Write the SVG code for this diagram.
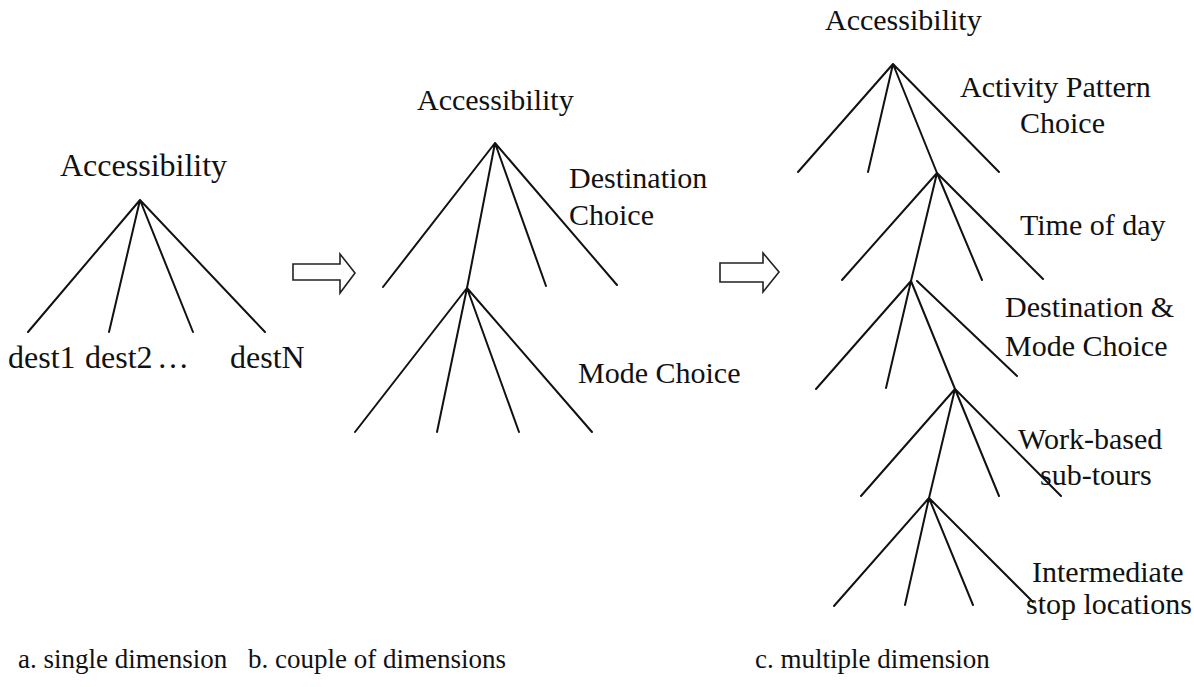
<svg xmlns="http://www.w3.org/2000/svg" width="1194" height="687" viewBox="0 0 1194 687" font-family="Liberation Serif, DejaVu Serif, serif">
<style>
text{font-family:'Liberation Serif','DejaVu Serif',serif;fill:#111}
.lbl{font-size:30px}
.lblA{font-size:32px}
.cap{font-size:27px}
.br{stroke:#111;stroke-width:2;fill:none;stroke-linecap:round}
.arr{stroke:#222;stroke-width:1.6;fill:#fff;stroke-linejoin:miter}
</style>
<rect width="1194" height="687" fill="#fff"/>

<g id="panel-a">
  <g id="a-root"><text class="lblA" x="60" y="176" font-family="Liberation Serif, serif">Accessibility</text></g>
  <g id="a-leaves"><text class="lblA" y="368" font-family="Liberation Serif, serif"><tspan x="8">dest1</tspan><tspan x="85">dest2</tspan><tspan x="157">…</tspan><tspan x="230">destN</tspan></text></g>
  <g id="a-caption"><text class="cap" x="18" y="668" font-family="Liberation Serif, serif">a. single dimension</text></g>
</g>

<g id="panel-b">
  <g id="b-root"><text class="lbl" x="417" y="110" font-family="Liberation Serif, serif">Accessibility</text></g>
  <g id="b-dest"><text class="lbl" x="569" y="188" font-family="Liberation Serif, serif">Destination</text><text class="lbl" x="569" y="225" font-family="Liberation Serif, serif">Choice</text></g>
  <g id="b-mode"><text class="lbl" x="578" y="383" font-family="Liberation Serif, serif">Mode Choice</text></g>
  <g id="b-caption"><text class="cap" x="248" y="668" font-family="Liberation Serif, serif">b. couple of dimensions</text></g>
</g>

<g id="panel-c">
  <g id="c-root"><text class="lbl" x="825" y="30" font-family="Liberation Serif, serif">Accessibility</text></g>
  <g id="c-activity"><text class="lbl" x="960" y="97" font-family="Liberation Serif, serif">Activity Pattern</text><text class="lbl" x="1020" y="133" font-family="Liberation Serif, serif">Choice</text></g>
  <g id="c-time"><text class="lbl" x="1020" y="235" font-family="Liberation Serif, serif">Time of day</text></g>
  <g id="c-destmode"><text class="lbl" x="1005" y="317" font-family="Liberation Serif, serif">Destination &amp;</text><text class="lbl" x="1005" y="356" font-family="Liberation Serif, serif">Mode Choice</text></g>
  <g id="c-work"><text class="lbl" x="1018" y="449" font-family="Liberation Serif, serif">Work-based</text><text class="lbl" x="1040" y="485" font-family="Liberation Serif, serif">sub-tours</text></g>
  <g id="c-inter"><text class="lbl" x="1032" y="582" font-family="Liberation Serif, serif">Intermediate</text><text class="lbl" x="1026" y="614" font-family="Liberation Serif, serif">stop locations</text></g>
  <g id="c-caption"><text class="cap" x="755" y="668" font-family="Liberation Serif, serif">c. multiple dimension</text></g>
</g>

<g id="arrows">
  <polygon class="arr" points="293,264 340,264 340,254 355,273 340,293 340,280 293,280"/>
  <polygon class="arr" points="720,263 763,263 763,253 779,272 763,292 763,282 720,282"/>
</g>

<g id="connectors" class="br">
  <path d="M140,200 L28,332 M140,200 L109,332 M140,200 L193,332 M140,200 L265,332"/>
  <path d="M495,143 L383,287 M495,143 L467,288 M495,143 L546,286 M495,143 L617,285"/>
  <path d="M467,288 L355,432 M467,288 L437,432 M467,288 L519,432 M467,288 L592,432"/>
  <path d="M893,64 L798,172 M893,64 L868,172 M893,64 L937,173 M893,64 L999,172"/>
  <path d="M937,173 L842,280 M937,173 L911,281 M937,173 L982,280 M937,173 L1043,279"/>
  <path d="M911,281 L816,389 M911,281 L886,388 M911,281 L955,389 M917,281 L1017,376"/>
  <path d="M955,389 L861,496 M955,389 L929,498 M955,389 L999,496 M955,389 L1061,496"/>
  <path d="M929,498 L834,606 M929,498 L905,605 M929,498 L973,605 M929,498 L1033,602"/>
</g>
</svg>
